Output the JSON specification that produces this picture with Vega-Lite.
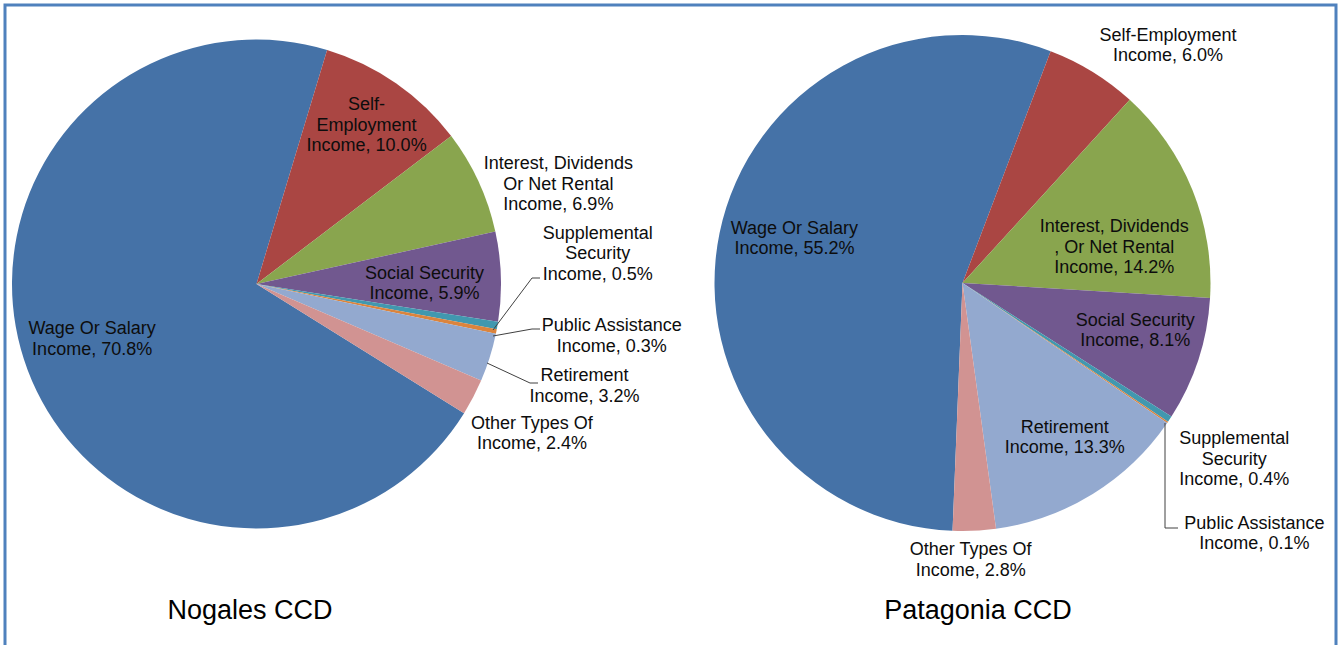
{
  "$schema": "https://vega.github.io/schema/vega-lite/v6.json",
  "width": 1331,
  "height": 645,
  "autosize": "none",
  "padding": {"left": 5, "top": 5, "right": 3, "bottom": -5},
  "background": "white",
  "config": {
    "view": {"stroke": "#4F81BD", "strokeWidth": 3},
    "text": {"font": "Liberation Sans", "fontSize": 18, "lineHeight": 20.5, "lineBreak": "\n", "color": "#0d0d0d", "align": "center", "baseline": "middle"}
  },
  "data": {
    "values": [
      {"ccd": "Nogales CCD", "cat": "Wage", "order": 1, "value": 70.8, "label": "Wage Or Salary\nIncome, 70.8%"},
      {"ccd": "Nogales CCD", "cat": "Self", "order": 2, "value": 10.0, "label": "Self-\nEmployment\nIncome, 10.0%"},
      {"ccd": "Nogales CCD", "cat": "Interest", "order": 3, "value": 6.9, "label": "Interest, Dividends\nOr Net Rental\nIncome, 6.9%"},
      {"ccd": "Nogales CCD", "cat": "Social", "order": 4, "value": 5.9, "label": "Social Security\nIncome, 5.9%"},
      {"ccd": "Nogales CCD", "cat": "Supp", "order": 5, "value": 0.5, "label": "Supplemental\nSecurity\nIncome, 0.5%"},
      {"ccd": "Nogales CCD", "cat": "Public", "order": 6, "value": 0.3, "label": "Public Assistance\nIncome, 0.3%"},
      {"ccd": "Nogales CCD", "cat": "Retire", "order": 7, "value": 3.2, "label": "Retirement\nIncome, 3.2%"},
      {"ccd": "Nogales CCD", "cat": "Other", "order": 8, "value": 2.4, "label": "Other Types Of\nIncome, 2.4%"},
      {"ccd": "Patagonia CCD", "cat": "Wage", "order": 1, "value": 55.2, "label": "Wage Or Salary\nIncome, 55.2%"},
      {"ccd": "Patagonia CCD", "cat": "Self", "order": 2, "value": 6.0, "label": "Self-Employment\nIncome, 6.0%"},
      {"ccd": "Patagonia CCD", "cat": "Interest", "order": 3, "value": 14.2, "label": "Interest, Dividends\n, Or Net Rental\nIncome, 14.2%"},
      {"ccd": "Patagonia CCD", "cat": "Social", "order": 4, "value": 8.1, "label": "Social Security\nIncome, 8.1%"},
      {"ccd": "Patagonia CCD", "cat": "Supp", "order": 5, "value": 0.4, "label": "Supplemental\nSecurity\nIncome, 0.4%"},
      {"ccd": "Patagonia CCD", "cat": "Public", "order": 6, "value": 0.1, "label": "Public Assistance\nIncome, 0.1%"},
      {"ccd": "Patagonia CCD", "cat": "Retire", "order": 7, "value": 13.3, "label": "Retirement\nIncome, 13.3%"},
      {"ccd": "Patagonia CCD", "cat": "Other", "order": 8, "value": 2.8, "label": "Other Types Of\nIncome, 2.8%"}
    ]
  },
  "resolve": {"scale": {"theta": "independent"}},
  "layer": [
    {
      "transform": [{"filter": "datum.ccd === 'Nogales CCD'"}],
      "encoding": {
        "x": {"field": "ccd", "type": "nominal", "axis": null, "scale": {"type": "point", "domain": ["Nogales CCD", "Patagonia CCD"], "range": [251.5, 957.5], "padding": 0}},
        "y": {"value": 279},
        "theta": {"field": "value", "type": "quantitative", "stack": true, "scale": {"domain": [0, 100], "range": [2.1276, 8.4108]}},
        "order": {"field": "order", "type": "quantitative"},
        "detail": {"field": "cat", "type": "nominal"}
      },
      "layer": [
        {"mark": {"type": "arc", "outerRadius": 244.5}, "encoding": {"color": {"field": "cat", "type": "nominal", "legend": null, "scale": {"domain": ["Wage", "Self", "Interest", "Social", "Supp", "Public", "Retire", "Other"], "range": ["#4572A7", "#AA4643", "#89A54E", "#71588F", "#4198AF", "#DB843D", "#93A9CF", "#D19392"]}}}},
        {"mark": {"type": "text", "radius": 173.5, "dx": -2, "dy": -16}, "encoding": {"text": {"condition": {"test": "datum.cat === 'Wage'", "field": "label", "type": "nominal"}, "value": ""}}},
        {"mark": {"type": "text", "radius": 193, "dx": 0, "dy": -20}, "encoding": {"text": {"condition": {"test": "datum.cat === 'Self'", "field": "label", "type": "nominal"}, "value": ""}}},
        {"mark": {"type": "text", "radius": 316, "dx": 15, "dy": 13}, "encoding": {"text": {"condition": {"test": "datum.cat === 'Interest'", "field": "label", "type": "nominal"}, "value": ""}}},
        {"mark": {"type": "text", "radius": 168, "dx": 0, "dy": -5}, "encoding": {"text": {"condition": {"test": "datum.cat === 'Social'", "field": "label", "type": "nominal"}, "value": ""}}},
        {"mark": {"type": "text", "radius": 331, "dx": 15, "dy": -106.5}, "encoding": {"text": {"condition": {"test": "datum.cat === 'Supp'", "field": "label", "type": "nominal"}, "value": ""}}},
        {"mark": {"type": "text", "radius": 358, "dx": 4, "dy": -27.5}, "encoding": {"text": {"condition": {"test": "datum.cat === 'Public'", "field": "label", "type": "nominal"}, "value": ""}}},
        {"mark": {"type": "text", "radius": 344, "dx": 0, "dy": -11}, "encoding": {"text": {"condition": {"test": "datum.cat === 'Retire'", "field": "label", "type": "nominal"}, "value": ""}}},
        {"mark": {"type": "text", "radius": 313, "dx": -2, "dy": -5}, "encoding": {"text": {"condition": {"test": "datum.cat === 'Other'", "field": "label", "type": "nominal"}, "value": ""}}}
      ]
    },
    {
      "transform": [{"filter": "datum.ccd === 'Patagonia CCD'"}],
      "encoding": {
        "x": {"field": "ccd", "type": "nominal", "axis": null, "scale": {"type": "point", "domain": ["Nogales CCD", "Patagonia CCD"], "range": [251.5, 957.5], "padding": 0}},
        "y": {"value": 278},
        "theta": {"field": "value", "type": "quantitative", "stack": true, "scale": {"domain": [0, 100.1], "range": [3.1817, 9.4649]}},
        "order": {"field": "order", "type": "quantitative"},
        "detail": {"field": "cat", "type": "nominal"}
      },
      "layer": [
        {"mark": {"type": "arc", "outerRadius": 248}, "encoding": {"color": {"field": "cat", "type": "nominal", "legend": null, "scale": {"domain": ["Wage", "Self", "Interest", "Social", "Supp", "Public", "Retire", "Other"], "range": ["#4572A7", "#AA4643", "#89A54E", "#71588F", "#4198AF", "#DB843D", "#93A9CF", "#D19392"]}}}},
        {"mark": {"type": "text", "radius": 173.6, "dx": 2, "dy": -19.5}, "encoding": {"text": {"condition": {"test": "datum.cat === 'Wage'", "field": "label", "type": "nominal"}, "value": ""}}},
        {"mark": {"type": "text", "radius": 310, "dx": 43, "dy": 17}, "encoding": {"text": {"condition": {"test": "datum.cat === 'Self'", "field": "label", "type": "nominal"}, "value": ""}}},
        {"mark": {"type": "text", "radius": 154, "dx": 9, "dy": 2}, "encoding": {"text": {"condition": {"test": "datum.cat === 'Interest'", "field": "label", "type": "nominal"}, "value": ""}}},
        {"mark": {"type": "text", "radius": 178.6, "dx": 3, "dy": -17.5}, "encoding": {"text": {"condition": {"test": "datum.cat === 'Social'", "field": "label", "type": "nominal"}, "value": ""}}},
        {"mark": {"type": "text", "radius": 324, "dx": 1, "dy": -21.5}, "encoding": {"text": {"condition": {"test": "datum.cat === 'Supp'", "field": "label", "type": "nominal"}, "value": ""}}},
        {"mark": {"type": "text", "radius": 382, "dx": -24, "dy": 26}, "encoding": {"text": {"condition": {"test": "datum.cat === 'Public'", "field": "label", "type": "nominal"}, "value": ""}}},
        {"mark": {"type": "text", "radius": 185, "dx": 5, "dy": -12.5}, "encoding": {"text": {"condition": {"test": "datum.cat === 'Retire'", "field": "label", "type": "nominal"}, "value": ""}}},
        {"mark": {"type": "text", "radius": 276, "dx": -5, "dy": -8.5}, "encoding": {"text": {"condition": {"test": "datum.cat === 'Other'", "field": "label", "type": "nominal"}, "value": ""}}}
      ]
    },
    {
      "transform": [{"filter": "datum.ccd === 'Nogales CCD' && datum.cat === 'Wage'"}],
      "encoding": {
        "x": {"field": "ccd", "type": "nominal", "axis": null, "scale": {"type": "point", "domain": ["Nogales CCD", "Patagonia CCD"], "range": [251.5, 957.5], "padding": 0}},
        "x2": {"field": "ccd"}
      },
      "layer": [
        {"mark": {"type": "rule", "color": "#404040", "strokeWidth": 1, "xOffset": 236.5, "x2Offset": 275.5}, "encoding": {"y": {"value": 325}, "y2": {"value": 273}}},
        {"mark": {"type": "rule", "color": "#404040", "strokeWidth": 1, "xOffset": 275.5, "x2Offset": 283.5}, "encoding": {"y": {"value": 273}, "y2": {"value": 273}}},
        {"mark": {"type": "rule", "color": "#404040", "strokeWidth": 1, "xOffset": 236.5, "x2Offset": 275.5}, "encoding": {"y": {"value": 331}, "y2": {"value": 324}}},
        {"mark": {"type": "rule", "color": "#404040", "strokeWidth": 1, "xOffset": 275.5, "x2Offset": 283.5}, "encoding": {"y": {"value": 324}, "y2": {"value": 324}}},
        {"mark": {"type": "rule", "color": "#404040", "strokeWidth": 1, "xOffset": 230.5, "x2Offset": 273.5}, "encoding": {"y": {"value": 358}, "y2": {"value": 378}}},
        {"mark": {"type": "rule", "color": "#404040", "strokeWidth": 1, "xOffset": 273.5, "x2Offset": 281.5}, "encoding": {"y": {"value": 378}, "y2": {"value": 378}}},
        {"mark": {"type": "text", "fontSize": 27, "color": "#000000", "dx": -6.5}, "encoding": {"y": {"value": 606}, "text": {"field": "ccd", "type": "nominal"}}}
      ]
    },
    {
      "transform": [{"filter": "datum.ccd === 'Patagonia CCD' && datum.cat === 'Wage'"}],
      "encoding": {
        "x": {"field": "ccd", "type": "nominal", "axis": null, "scale": {"type": "point", "domain": ["Nogales CCD", "Patagonia CCD"], "range": [251.5, 957.5], "padding": 0}},
        "x2": {"field": "ccd"}
      },
      "layer": [
        {"mark": {"type": "rule", "color": "#404040", "strokeWidth": 1, "xOffset": 202.5, "x2Offset": 202.5}, "encoding": {"y": {"value": 418}, "y2": {"value": 523}}},
        {"mark": {"type": "rule", "color": "#404040", "strokeWidth": 1, "xOffset": 202.5, "x2Offset": 215.5}, "encoding": {"y": {"value": 523}, "y2": {"value": 523}}},
        {"mark": {"type": "text", "fontSize": 27, "color": "#000000", "dx": 15.5}, "encoding": {"y": {"value": 606}, "text": {"field": "ccd", "type": "nominal"}}}
      ]
    }
  ]
}
